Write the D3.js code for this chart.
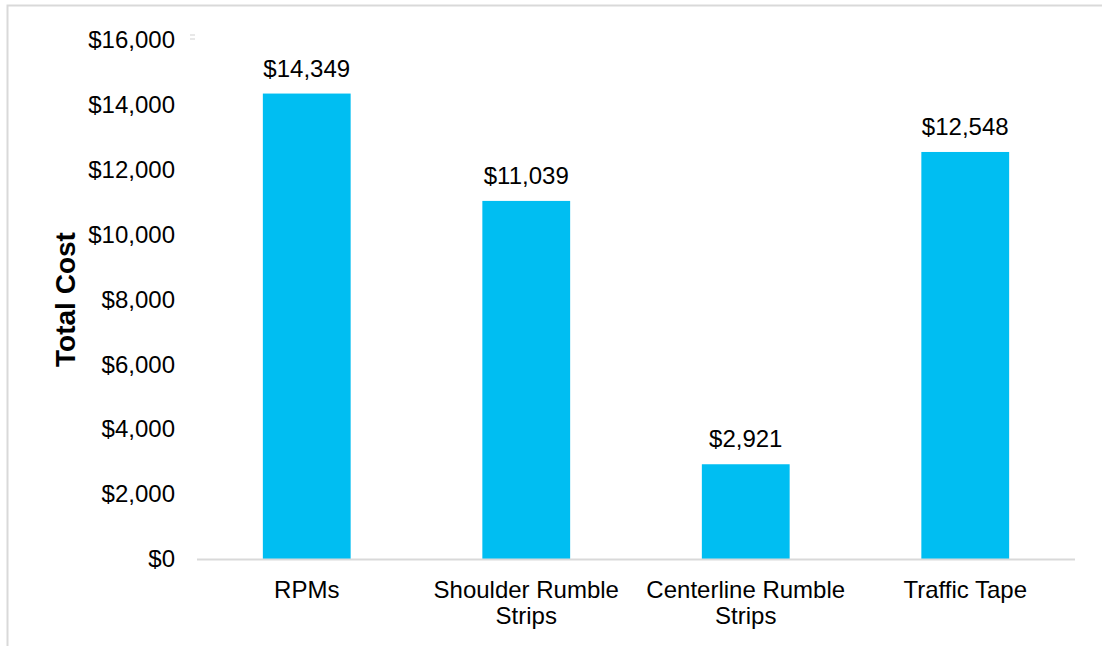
<!DOCTYPE html>
<html>
<head>
<meta charset="utf-8">
<script src="https://cdn.jsdelivr.net/npm/d3@7"></script>
<style>
  html, body { margin: 0; padding: 0; background: #fff; }
  svg { display: block; font-family: "Liberation Sans", Arial, sans-serif; }
</style>
</head>
<body>
<svg id="chart" width="1102" height="646"></svg>
<script>
// Total cost per treatment type
const categories = [["RPMs"], ["Shoulder Rumble", "Strips"], ["Centerline Rumble", "Strips"], ["Traffic Tape"]];
const values = [14349, 11039, 2921, 12548];
const yTicks = [0, 2000, 4000, 6000, 8000, 10000, 12000, 14000, 16000];

const svg = d3.select("#chart");
const W = 1102, H = 646;
const m = { left: 197, right: 1075, top: 40, bottom: 559 };
const FS = 24;

// outer frame
svg.append("rect")
  .attr("x", 7.5).attr("y", 5.5)
  .attr("width", W + 10).attr("height", H + 10)
  .attr("fill", "none").attr("stroke", "#d9d9d9").attr("stroke-width", 2);

const keys = categories.map(c => c.join(" "));
const x = d3.scaleBand().domain(keys).range([m.left, m.right]).paddingInner(0.6).paddingOuter(0.3);
const y = d3.scaleLinear().domain([0, 16000]).range([m.bottom, m.top]);

const fmt = d => "$" + d3.format(",")(d);

// y axis labels
const yAxis = svg.append("g")
  .attr("transform", `translate(${m.left - 22},0)`)
  .call(d3.axisLeft(y).tickValues(yTicks).tickFormat(fmt).tickSize(0).tickPadding(0));
yAxis.select(".domain").remove();
yAxis.selectAll("text")
  .attr("font-size", FS).attr("fill", "#000")
  .attr("font-family", "Liberation Sans, Arial, sans-serif");

// small marks beside the top tick
svg.append("g").selectAll("line").data([-2, 2]).join("line")
  .attr("x1", 190).attr("x2", 195)
  .attr("y1", d => y(16000) - 3 + d).attr("y2", d => y(16000) - 3 + d)
  .attr("stroke", "#d9d9d9").attr("stroke-width", 1.2);

// bars
svg.append("g").selectAll("rect").data(values).join("rect")
  .attr("x", (d, i) => x(keys[i]))
  .attr("width", x.bandwidth())
  .attr("y", d => y(d))
  .attr("height", d => y(0) - y(d))
  .attr("fill", "#00bef2");

// value labels
svg.append("g").selectAll("text").data(values).join("text")
  .attr("x", (d, i) => x(keys[i]) + x.bandwidth() / 2)
  .attr("y", d => y(d) - 17)
  .attr("text-anchor", "middle")
  .attr("font-size", FS).attr("fill", "#000")
  .text(fmt);

// x axis line
svg.append("line")
  .attr("x1", m.left).attr("x2", m.right)
  .attr("y1", y(0) + 0.5).attr("y2", y(0) + 0.5)
  .attr("stroke", "#d9d9d9").attr("stroke-width", 2);

// category labels
const cat = svg.append("g").selectAll("text").data(categories).join("text")
  .attr("x", (d, i) => x(keys[i]) + x.bandwidth() / 2)
  .attr("y", 598)
  .attr("text-anchor", "middle")
  .attr("font-size", FS).attr("fill", "#000");
cat.selectAll("tspan").data(d => d).join("tspan")
  .attr("x", function() { return d3.select(this.parentNode).attr("x"); })
  .attr("dy", (d, i) => i === 0 ? 0 : 26)
  .text(d => d);

// y axis title
svg.append("text")
  .attr("transform", `translate(75,${(m.top + m.bottom) / 2}) rotate(-90)`)
  .attr("text-anchor", "middle")
  .attr("font-size", 28).attr("font-weight", "bold").attr("fill", "#000")
  .text("Total Cost");
</script>
</body>
</html>
